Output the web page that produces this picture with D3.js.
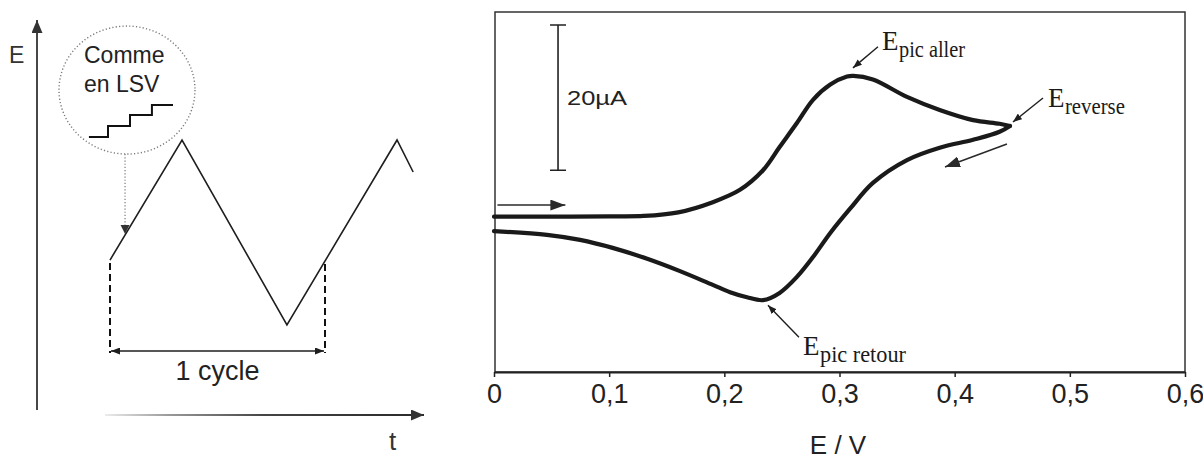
<!DOCTYPE html>
<html>
<head>
<meta charset="utf-8">
<script src="https://cdn.jsdelivr.net/npm/d3@7"></script>
<style>
  body { margin: 0; background: #fff; }
  svg { display: block; }
</style>
</head>
<body>
<svg id="fig" width="1203" height="461"></svg>
<script>
// Cyclic voltammetry: the triangular potential program (left) and the
// resulting voltammogram with its characteristic potentials (right).

// ---- potential program: time in cycles, E normalised (0 = Emin, 1 = Emax)
const waveT = [0, 0.335, 0.823, 1.335, 1.41];
const waveE = [0.351, 1, 0, 1, 0.827];
const cycleBounds = [0, 1];
// staircase icon "Comme en LSV" (same units)
const stairT = [-0.098, -0.0093, 0.093, 0.195, 0.293];
const stairE = [1.016, 1.076, 1.135, 1.189, 1.189];

// ---- voltammogram: E in V, i in µA
const fwdE = [0, 0.05, 0.10, 0.13, 0.16, 0.19, 0.2136, 0.2336, 0.248, 0.263, 0.277, 0.292, 0.3065, 0.312, 0.329, 0.3586, 0.387, 0.416, 0.439, 0.448];
const fwdI = [0, 0, 0.05, 0.1, 0.6, 2.0, 3.7, 6.4, 9.6, 12.9, 16.1, 18.2, 19.3, 19.4, 18.9, 16.5, 14.7, 13.3, 12.8, 12.5];
const revE = [0.448, 0.439, 0.416, 0.387, 0.3586, 0.329, 0.309, 0.292, 0.277, 0.263, 0.248, 0.2336, 0.2197, 0.205, 0.190, 0.1615, 0.133, 0.103, 0.0747, 0.046, 0];
const revI = [12.5, 11.7, 10.6, 9.5, 7.8, 4.65, 1.06, -2.25, -5.56, -8.3, -10.5, -11.5, -11.1, -10.4, -9.4, -7.5, -5.8, -4.3, -3.2, -2.5, -2.0];
const xTicks = [0, 0.1, 0.2, 0.3, 0.4, 0.5, 0.6];
const scaleBar = { E: 0.0556, top: 26.4, span: 20, label: "20µA" };

// peak labels and their pointer arrows (E in V, i in µA)
const peakLabels = [
  { sub: "pic aller",  w: 66, E: 0.3369, i: 22.97, from: [0.3334, 23.4], to: [0.3117, 20.5] },
  { sub: "reverse",    w: 60, E: 0.4810, i: 15.10, from: [0.4767, 16.35], to: [0.4506, 13.05] },
  { sub: "pic retour", w: 86, E: 0.2683, i: -19.05, from: [0.2648, -16.6], to: [0.2379, -12.2] }
];
// scan-direction arrows
const scanArrows = [
  { from: [0.003, 1.6], to: [0.062, 1.6] },
  { from: [0.4454, 10.0], to: [0.3916, 6.85] }
];

const ink = "#1e1e1e";
const sans = "Liberation Sans, Arial, sans-serif";
const svg = d3.select("#fig");
svg.append("rect").attr("width", 1203).attr("height", 461).attr("fill", "#fff");
const defs = svg.append("defs");

function marker(id, w, h, color) {
  defs.append("marker")
    .attr("id", id)
    .attr("viewBox", `0 0 ${w} ${h}`)
    .attr("markerUnits", "userSpaceOnUse")
    .attr("markerWidth", w).attr("markerHeight", h)
    .attr("refX", w).attr("refY", h / 2)
    .attr("orient", "auto-start-reverse")
    .append("path")
    .attr("d", `M0,0L${w},${h / 2}L0,${h}Z`)
    .attr("fill", color);
}
marker("headS", 9, 7, ink);
marker("headL", 15, 11, "#2a2a2a");
marker("headAxis", 13, 11, "#333");

const grad = defs.append("linearGradient")
  .attr("id", "tFade").attr("gradientUnits", "userSpaceOnUse")
  .attr("x1", 105).attr("x2", 424).attr("y1", 0).attr("y2", 0);
grad.append("stop").attr("offset", 0).attr("stop-color", "#ececec");
grad.append("stop").attr("offset", 0.2).attr("stop-color", "#9a9a9a");
grad.append("stop").attr("offset", 0.5).attr("stop-color", "#444");
grad.append("stop").attr("offset", 1).attr("stop-color", "#2a2a2a");

// =================== left: potential program ===================
const left = svg.append("g");
const xT = d3.scaleLinear().domain([0, 1]).range([110, 325]);
const yE = d3.scaleLinear().domain([0, 1]).range([325, 140]);
const waveAt = d3.scaleLinear().domain(waveT).range(waveE);

// axes (E upward, t to the right)
left.append("line")
  .attr("x1", 37).attr("y1", 410).attr("x2", 37).attr("y2", 20)
  .attr("stroke", "#333").attr("stroke-width", 1.8)
  .attr("marker-end", "url(#headAxis)");
left.append("line")
  .attr("x1", 105).attr("y1", 415).attr("x2", 424).attr("y2", 415)
  .attr("stroke", "url(#tFade)").attr("stroke-width", 2.2)
  .attr("marker-end", "url(#headAxis)");
left.append("text").text("E")
  .attr("x", 9).attr("y", 63)
  .attr("font-family", sans).attr("font-size", 23).attr("fill", "#333");
left.append("text").text("t")
  .attr("x", 389).attr("y", 450)
  .attr("font-family", sans).attr("font-size", 26).attr("fill", "#333");

// triangular wave
left.append("path")
  .datum(waveT.map((t, k) => [t, waveE[k]]))
  .attr("d", d3.line().x(d => xT(d[0])).y(d => yE(d[1])))
  .attr("fill", "none").attr("stroke", ink).attr("stroke-width", 1.6)
  .attr("stroke-linejoin", "miter");

// cycle limits
const cycleY = 351;
left.selectAll("line.cyc").data(cycleBounds).join("line")
  .attr("class", "cyc")
  .attr("x1", d => xT(d)).attr("x2", d => xT(d))
  .attr("y1", d => yE(waveAt(d)) + 3).attr("y2", cycleY + 2)
  .attr("stroke", "#111").attr("stroke-width", 2)
  .attr("stroke-dasharray", "7,4");
left.append("line")
  .attr("x1", xT(cycleBounds[0]) + 1).attr("x2", xT(cycleBounds[1]) - 1)
  .attr("y1", cycleY).attr("y2", cycleY)
  .attr("stroke", ink).attr("stroke-width", 1.6)
  .attr("marker-start", "url(#headS)").attr("marker-end", "url(#headS)");
left.append("text").text("1 cycle")
  .attr("x", xT(0.5)).attr("y", 380).attr("text-anchor", "middle")
  .attr("font-family", sans).attr("font-size", 27).attr("fill", "#222");

// inset "Comme en LSV"
const cx = xT(0.079), cy = yE(1.27), rx = 68, ry = 64;
left.append("ellipse")
  .attr("cx", cx).attr("cy", cy).attr("rx", rx).attr("ry", ry)
  .attr("fill", "none").attr("stroke", "#7a7a7a").attr("stroke-width", 1.4)
  .attr("stroke-dasharray", "1.2,2.2");
left.append("text")
  .attr("font-family", sans).attr("font-size", 23).attr("fill", "#222")
  .selectAll("tspan").data(["Comme", "en LSV"]).join("tspan")
  .attr("x", 84).attr("y", (d, k) => 63 + k * 29).text(d => d);
left.append("path")
  .datum(stairT.map((t, k) => [t, stairE[k]]))
  .attr("d", d3.line().curve(d3.curveStepAfter).x(d => xT(d[0])).y(d => yE(d[1])))
  .attr("fill", "none").attr("stroke", "#111").attr("stroke-width", 2);

// dotted pointer from the inset to the ramp
const pT = 0.07;
const tipY = yE(waveAt(pT)) - 1;
left.append("line")
  .attr("x1", xT(pT)).attr("x2", xT(pT))
  .attr("y1", cy + ry).attr("y2", tipY - 8)
  .attr("stroke", "#9a9a9a").attr("stroke-width", 1.6)
  .attr("stroke-dasharray", "1.2,2");
left.append("path")
  .attr("d", `M${xT(pT) - 4.5},${tipY - 9}L${xT(pT) + 4.5},${tipY - 9}L${xT(pT)},${tipY}Z`)
  .attr("fill", "#333");

// =================== right: voltammogram ===================
const right = svg.append("g");
const xCV = d3.scaleLinear().domain([0, 0.6]).range([494, 1185]);
const yCV = d3.scaleLinear().domain([-21.4, 28.2]).range([372, 12]);

right.append("rect")
  .attr("x", xCV(0) + 1).attr("y", yCV.range()[1])
  .attr("width", xCV(0.6) - xCV(0) - 1).attr("height", yCV.range()[0] - yCV.range()[1])
  .attr("fill", "none").attr("stroke", "#333").attr("stroke-width", 1.5);

const fmt = d => d === 0 ? "0" : d3.format(".1f")(d).replace(".", ",");
const ax = right.append("g")
  .attr("transform", `translate(0,${yCV.range()[0]})`)
  .call(d3.axisBottom(xCV).tickValues(xTicks).tickFormat(fmt)
    .tickSize(5).tickSizeOuter(0).tickPadding(7));
ax.select(".domain").attr("stroke", "#222").attr("stroke-width", 2);
ax.selectAll(".tick line").attr("stroke", "#222").attr("stroke-width", 1.5);
ax.selectAll(".tick text")
  .attr("font-family", sans).attr("font-size", 27).attr("fill", "#222");
right.append("text").text("E / V")
  .attr("x", 838).attr("y", 454).attr("text-anchor", "middle")
  .attr("font-family", sans).attr("font-size", 26).attr("fill", "#222");

// scale bar
const sbx = xCV(scaleBar.E);
const sbTop = yCV(scaleBar.top), sbBot = yCV(scaleBar.top - scaleBar.span);
right.append("path")
  .attr("d", `M${sbx},${sbTop}V${sbBot}M${sbx - 8},${sbTop}H${sbx + 8}M${sbx - 8},${sbBot}H${sbx + 8}`)
  .attr("fill", "none").attr("stroke", "#222").attr("stroke-width", 1.6);
right.append("text").text(scaleBar.label)
  .attr("x", sbx + 9).attr("y", (sbTop + sbBot) / 2 + 7)
  .attr("font-family", sans).attr("font-size", 21).attr("fill", "#222")
  .attr("textLength", 60).attr("lengthAdjust", "spacingAndGlyphs");

// current trace: forward and reverse branches
const cvLine = d3.line().curve(d3.curveCatmullRom.alpha(0.5))
  .x(d => xCV(d[0])).y(d => yCV(d[1]));
[[fwdE, fwdI], [revE, revI]].forEach(([es, is]) => {
  right.append("path")
    .datum(es.map((e, k) => [e, is[k]]))
    .attr("d", cvLine)
    .attr("fill", "none").attr("stroke", "#1a1a1a").attr("stroke-width", 4.2)
    .attr("stroke-linecap", "round").attr("stroke-linejoin", "round");
});

// scan direction arrows
scanArrows.forEach(a => {
  right.append("line")
    .attr("x1", xCV(a.from[0])).attr("y1", yCV(a.from[1]))
    .attr("x2", xCV(a.to[0])).attr("y2", yCV(a.to[1]))
    .attr("stroke", "#2a2a2a").attr("stroke-width", 1.6)
    .attr("marker-end", "url(#headL)");
});

// peak labels
peakLabels.forEach(p => {
  right.append("line")
    .attr("x1", xCV(p.from[0])).attr("y1", yCV(p.from[1]))
    .attr("x2", xCV(p.to[0])).attr("y2", yCV(p.to[1]))
    .attr("stroke", ink).attr("stroke-width", 1.4)
    .attr("marker-end", "url(#headS)");
  const t = right.append("text")
    .attr("x", xCV(p.E)).attr("y", yCV(p.i))
    .attr("font-family", "Liberation Serif, Times New Roman, serif")
    .attr("fill", "#1a1a1a");
  t.append("tspan").text("E").attr("font-size", 27);
  t.append("tspan").text(p.sub).attr("font-size", 23).attr("dy", 7).attr("dx", 0.5)
    .attr("textLength", p.w).attr("lengthAdjust", "spacingAndGlyphs");
});
</script>
</body>
</html>
